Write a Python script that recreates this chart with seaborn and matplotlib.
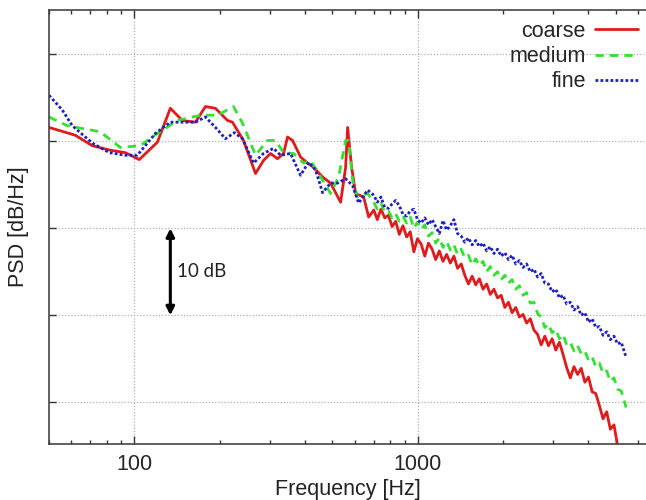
import matplotlib
matplotlib.use("Agg")
import matplotlib.pyplot as plt
import seaborn as sns
import numpy as np
import pandas as pd
from matplotlib.ticker import FixedLocator, NullFormatter, FixedFormatter

# ---- data ----
coarse_f = [50.0, 61.9, 71.1, 81.6, 92.9, 104.1, 120.6, 134.0, 147.7, 164.3, 178.2, 193.3,
            213.2, 222.0, 242.8, 267.7, 285.6, 302.4, 320.2, 336.2, 347.3, 361.7, 386.0,
            408.7, 429.1, 461.7, 492.6, 534.5, 556.7, 565.8, 584.5, 603.9, 644.5, 671.3,
            700, 720, 742, 765, 788, 812, 836, 861, 887, 914, 941, 969, 998, 1028, 1059,
            1091, 1124, 1157, 1192, 1228, 1265, 1303, 1342, 1382, 1424, 1466, 1510, 1556,
            1602, 1650, 1700, 1751, 1803, 1857, 1913, 1970, 2030, 2090, 2153, 2218, 2284,
            2353, 2423, 2496, 2571, 2648, 2727, 2809, 2893, 2980, 3070, 3162, 3257, 3354,
            3455, 3559, 3665, 3775, 3889, 4005, 4125, 4249, 4377, 4508, 4643, 4783, 4926,
            5074]
coarse_db = [41.6, 40.7, 39.5, 39.0, 38.7, 37.9, 39.9, 43.8, 42.4, 42.2, 44.0, 43.8,
             42.4, 42.2, 40.1, 36.3, 37.8, 38.6, 38.0, 38.6, 40.5, 40.1, 38.2,
             37.5, 37.0, 35.9, 35.2, 33.0, 37.0, 41.6, 37.0, 34.0, 33.6, 31.3,
             32.1, 31.0, 32.2, 31.2, 31.5, 30.2, 30.8, 29.3, 30.3, 29.0, 29.6, 27.3, 28.8,
             28.2, 26.8, 28.3, 27.6, 26.4, 27.4, 26.2, 27.0, 26.0, 26.8, 25.4, 25.9, 24.6,
             23.6, 24.5, 23.5, 24.2, 23.0, 23.6, 22.4, 23.0, 22.0, 22.3, 20.9, 21.5, 20.3,
             20.9, 19.8, 20.1, 19.1, 19.6, 18.3, 17.8, 16.6, 17.6, 16.5, 17.3, 16.0, 16.9,
             15.5, 14.0, 12.8, 14.1, 13.2, 13.9, 12.3, 12.9, 11.2, 11.0, 9.6, 8.1, 8.9,
             6.9, 7.4, 5.0]

medium_f = [50.0, 58.0, 75.8, 89.2, 104.9, 120.6, 141.9, 171.1, 196.5, 223.8, 240.8, 267.7,
            295.1, 315.0, 336.2, 364.7, 395.6, 418.8, 446.9, 492.6, 525.8, 556.7, 570.4,
            589.3, 613.8, 665.8,
            700, 720, 742, 765, 788, 812, 836, 861, 887, 914, 941, 969, 998, 1028, 1059,
            1091, 1124, 1157, 1192, 1228, 1265, 1303, 1342, 1382, 1424, 1466, 1510, 1556,
            1602, 1650, 1700, 1751, 1803, 1857, 1913, 1970, 2030, 2090, 2153, 2218, 2284,
            2353, 2423, 2496, 2571, 2648, 2727, 2809, 2893, 2980, 3070, 3162, 3257, 3354,
            3455, 3559, 3665, 3775, 3889, 4005, 4125, 4249, 4377, 4508, 4643, 4783, 4926,
            5074, 5226, 5383, 5433]
medium_db = [42.8, 41.8, 41.1, 39.3, 39.5, 40.9, 42.4, 43.0, 43.0, 44.0, 42.1, 38.4,
             40.1, 40.1, 38.7, 38.6, 37.5, 37.8, 36.3, 34.0, 35.9, 40.1, 40.1,
             35.5, 33.6, 34.0,
             33.0, 32.2, 32.9, 31.8, 32.0, 31.2, 31.7, 30.8, 31.4, 30.6, 31.3, 30.0, 30.7,
             29.9, 30.4, 29.1, 29.5, 28.3, 28.9, 27.8, 28.5, 27.5, 28.1, 27.0, 27.6, 26.6,
             26.9, 25.8, 26.5, 25.7, 26.2, 25.0, 25.6, 24.6, 25.0, 24.1, 24.6, 23.7, 24.1,
             23.0, 23.4, 22.3, 22.6, 21.4, 21.5, 20.2, 19.8, 18.6, 19.0, 18.0, 18.4, 17.3,
             17.8, 16.6, 16.9, 15.9, 16.5, 15.6, 15.9, 14.8, 15.2, 14.1, 14.5, 13.3, 13.6,
             12.4, 12.8, 11.5, 11.3, 9.9, 9.4]

fine_f = [50.0, 55.7, 60.4, 71.1, 81.6, 92.9, 102.5, 118.6, 134.0, 147.7, 164.3, 178.2,
          193.3, 209.7, 225.6, 240.8, 263.4, 285.6, 309.9, 328.1, 355.9, 386.0, 412.0,
          436.2, 461.7, 492.6, 521.6, 556.7, 589.3, 618.8, 665.8,
          700, 720, 742, 765, 788, 812, 836, 861, 887, 914, 941, 969, 998, 1028, 1059,
          1091, 1124, 1157, 1192, 1228, 1265, 1303, 1342, 1382, 1424, 1466, 1510, 1556,
          1602, 1650, 1700, 1751, 1803, 1857, 1913, 1970, 2030, 2090, 2153, 2218, 2284,
          2353, 2423, 2496, 2571, 2648, 2727, 2809, 2893, 2980, 3070, 3162, 3257, 3354,
          3455, 3559, 3665, 3775, 3889, 4005, 4125, 4249, 4377, 4508, 4643, 4783, 4926,
          5074, 5226, 5383, 5433]
fine_db = [45.3, 43.6, 41.8, 39.8, 38.7, 38.4, 38.4, 40.9, 42.2, 42.2, 42.2, 42.8,
           41.6, 40.3, 41.0, 40.3, 37.5, 38.6, 39.2, 38.4, 38.6, 36.1, 37.6,
           36.7, 34.1, 35.2, 35.2, 35.7, 34.9, 32.9, 34.4,
           33.8, 33.0, 33.6, 32.4, 32.3, 32.8, 33.2, 32.6, 31.6, 31.4, 32.0, 32.2, 31.0,
           30.6, 31.2, 30.4, 31.0, 30.2, 29.4, 30.9, 29.8, 30.3, 31.0, 29.4, 29.1, 28.4,
           28.9, 28.1, 28.6, 27.9, 28.3, 27.4, 27.9, 27.1, 27.6, 26.8, 27.2, 26.4, 26.9,
           25.9, 26.3, 25.5, 25.9, 25.0, 25.3, 24.4, 24.8, 23.7, 23.6, 22.7, 23.0, 22.0,
           22.3, 21.3, 21.5, 20.6, 21.0, 20.0, 20.3, 19.2, 19.6, 18.6, 18.7, 17.7, 18.1,
           17.2, 17.6, 16.7, 16.9, 15.6, 15.2]

series_names = ["coarse", "medium", "fine"]
x_tick_values = [100, 1000]
x_tick_labels = ["100", "1000"]
y_grid_values = [10, 20, 30, 40, 50]

# ---- figure ----
sns.set_theme(style="white")
plt.rcParams["font.family"] = ["Liberation Sans", "DejaVu Sans"]

fig = plt.figure(figsize=(6.46, 5.0), dpi=100)
ax = fig.add_axes([49 / 646, 1 - 444 / 500, 597 / 646, 434 / 500])

colors = {"coarse": "#e01b1b", "medium": "#33e033", "fine": "#1f1fc0"}
styles = {"coarse": "-", "medium": (0, (3, 2.2)), "fine": (0, (1, 0.8))}
data = {"coarse": (coarse_f, coarse_db), "medium": (medium_f, medium_db), "fine": (fine_f, fine_db)}

for name in series_names:
    f, d = data[name]
    df = pd.DataFrame({"f": f, "db": d})
    sns.lineplot(data=df, x="f", y="db", ax=ax, color=colors[name], linestyle=styles[name],
                 linewidth=2.0, label=name, sort=False, estimator=None)

ax.set_xscale("log")
ax.set_xlim(50, 6390)
ax.set_ylim(5.2, 55.1)

ax.xaxis.set_major_locator(FixedLocator(x_tick_values))
ax.xaxis.set_major_formatter(FixedFormatter(x_tick_labels))
minor = [m * 10 ** e for e in (1, 2, 3) for m in range(2, 10) if 50 <= m * 10 ** e <= 6390]
ax.xaxis.set_minor_locator(FixedLocator(minor))
ax.xaxis.set_minor_formatter(NullFormatter())
ax.yaxis.set_major_locator(FixedLocator(y_grid_values))
ax.set_yticklabels([])

ax.tick_params(axis="x", which="major", direction="in", length=6, width=1, top=True,
               bottom=True, labelsize=15.5, pad=7, color="#333333")
ax.tick_params(axis="x", which="minor", direction="in", length=3, width=1, top=True,
               bottom=True, color="#333333")
ax.tick_params(axis="y", which="major", direction="in", length=5, width=1, left=True,
               right=False, color="#333333")

ax.grid(True, which="major", color="#b0b0b0", linestyle=(0, (1, 1.5)), linewidth=0.9)
for s in ["left", "bottom", "top"]:
    ax.spines[s].set_color("#444444")
    ax.spines[s].set_linewidth(1.2)
ax.spines["right"].set_visible(False)

ax.set_xlabel("Frequency [Hz]", fontsize=15.5, labelpad=3, color="#222222")
ax.set_ylabel("PSD [dB/Hz]", fontsize=15.5, labelpad=11, color="#222222")

leg = ax.legend(loc="upper right", frameon=False, markerfirst=False, fontsize=15.5,
                handlelength=2.0, handletextpad=0.4, labelspacing=0.2,
                borderaxespad=0.1, bbox_to_anchor=(1.004, 1.0))

# 10 dB scale arrow
ax.annotate("", xy=(134, 30), xytext=(134, 20),
            arrowprops=dict(arrowstyle="<|-|>", color="black", lw=2.2,
                            mutation_scale=12, shrinkA=0, shrinkB=0))
ax.text(141, 25, "10 dB", fontsize=13.5, family=["Lato", "DejaVu Sans"],
        va="center", ha="left", color="#222222")

fig.savefig("out.png", dpi=100)
